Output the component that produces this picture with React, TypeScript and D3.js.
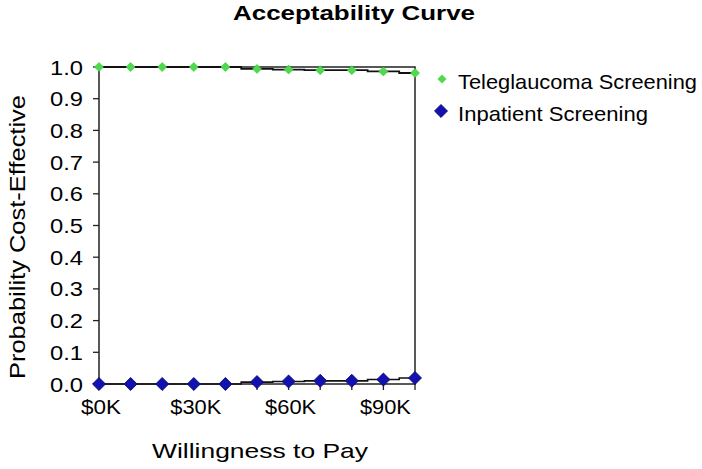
import React from 'react';
import * as d3 from 'd3';

const wtp = [0, 10, 20, 30, 40, 50, 60, 70, 80, 90, 100];
const teleglaucoma = [1.0, 1.0, 1.0, 1.0, 1.0, 0.994, 0.992, 0.99, 0.99, 0.986, 0.981];
const inpatient = [0.0, 0.0, 0.0, 0.0, 0.0, 0.006, 0.008, 0.01, 0.01, 0.014, 0.019];
const yTicks = [0, 0.1, 0.2, 0.3, 0.4, 0.5, 0.6, 0.7, 0.8, 0.9, 1.0];
const xLabels = [0, 30, 60, 90];
const seriesNames = ['Teleglaucoma Screening', 'Inpatient Screening'];

const W = 702, H = 469;
const font = '"Liberation Sans", Arial, sans-serif';
const green = '#4ddb4d';
const blue = '#1212b0';

const App = () => {
  const x = d3.scaleLinear().domain([0, 100]).range([99, 415]);
  const y = d3.scaleLinear().domain([0, 1]).range([384, 67]);

  const line = d3.line<number>()
    .x((d, i) => x(wtp[i]))
    .y(d => y(d))
    .curve(d3.curveStep);

  // square turned 45 degrees
  const diamond = (s: number) => d3.symbol().type(d3.symbolDiamond2).size(s)() || '';

  return (
    <div style={{position: 'fixed', left: 0, top: 0}}>
      <svg width={W} height={H} fontFamily={font} style={{display: 'block', background: '#fff'}}>
        <text x={354} y={20} textAnchor="middle" fontSize={21} fontWeight="bold"
          textLength={242} lengthAdjust="spacingAndGlyphs">Acceptability Curve</text>

        {/* frame */}
        <rect x={x(0)} y={y(1)} width={x(100) - x(0)} height={y(0) - y(1)} fill="none" stroke="#222" strokeWidth={1.5} />

        {/* y axis */}
        {yTicks.map(t => (
          <g key={t}>
            <line x1={x(0) - 6} x2={x(0)} y1={y(t)} y2={y(t)} stroke="#222" strokeWidth={1.3} />
            <text x={x(0) - 16} y={y(t) + 7.5} textAnchor="end" fontSize={20}
              textLength={33} lengthAdjust="spacingAndGlyphs">{d3.format('.1f')(t)}</text>
          </g>
        ))}

        {/* x axis */}
        {wtp.map(t => (
          <line key={t} x1={x(t)} x2={x(t)} y1={y(0)} y2={y(0) + 6} stroke="#222" strokeWidth={1.3} />
        ))}
        {xLabels.map(t => (
          <text key={t} x={x(t) + 2} y={414} textAnchor="middle" fontSize={20}
            textLength={t === 0 ? 40 : 51} lengthAdjust="spacingAndGlyphs">{`$${t}K`}</text>
        ))}

        <text x={260} y={458} textAnchor="middle" fontSize={21}
          textLength={216} lengthAdjust="spacingAndGlyphs">Willingness to Pay</text>
        <text transform={`translate(25 ${237}) rotate(-90)`} textAnchor="middle" fontSize={22}
          textLength={284} lengthAdjust="spacingAndGlyphs">Probability Cost-Effective</text>

        {/* step lines */}
        <path d={line(teleglaucoma) || ''} fill="none" stroke="#111" strokeWidth={1.8} />
        <path d={line(inpatient) || ''} fill="none" stroke="#111" strokeWidth={1.6} />

        {/* markers */}
        {teleglaucoma.map((v, i) => (
          <path key={'t' + i} d={diamond(52)} transform={`translate(${x(wtp[i])},${y(v)})`} fill={green} stroke="#3cc43c" strokeWidth={0.6} />
        ))}
        {inpatient.map((v, i) => (
          <path key={'p' + i} d={diamond(108)} transform={`translate(${x(wtp[i])},${y(v)})`} fill={blue} stroke="#0a0a6e" strokeWidth={0.9} />
        ))}

        {/* legend */}
        <path d={diamond(52)} transform="translate(442,79)" fill={green} />
        <text x={458} y={89} fontSize={21} textLength={239} lengthAdjust="spacingAndGlyphs">{seriesNames[0]}</text>
        <path d={diamond(108)} transform="translate(441,111)" fill={blue} stroke="#0a0a6e" strokeWidth={0.9} />
        <text x={458} y={121} fontSize={21} textLength={190} lengthAdjust="spacingAndGlyphs">{seriesNames[1]}</text>
      </svg>
    </div>
  );
};

export default App;
